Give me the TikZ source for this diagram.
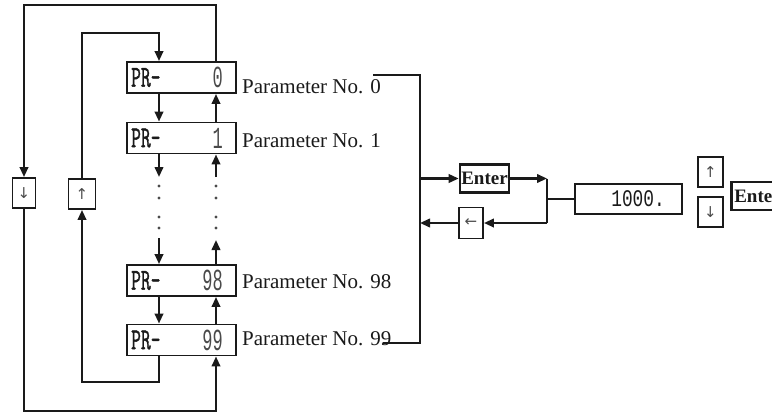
\documentclass[tikz,border=0pt]{standalone}
\usepackage{fontspec}
\usepackage{graphicx}
\setmainfont{Liberation Serif}
\newfontfamily\monofont{Liberation Mono}
\newfontfamily\prmono[FakeBold=1.6]{Latin Modern Mono}
\newfontfamily\symfont{DejaVu Sans}
\usetikzlibrary{arrows.meta}
\definecolor{ink}{HTML}{1A1A1A}
\definecolor{lcd}{HTML}{4A4A4A}
\newcommand\entfont{\bfseries\fontsize{19}{22}\selectfont}
\newcommand\prfont{\prmono\fontsize{19}{22}\selectfont}
\newcommand\dgfont{\monofont\fontsize{17}{20}\selectfont}
\begin{document}
\begin{tikzpicture}[x=1pt,y=-1pt,color=ink,line width=2.2pt,
  box/.style={draw, line width=1.9pt, inner sep=0pt},
  prbox/.style={box, minimum width=109pt, minimum height=31pt},
  keybox/.style={box, minimum width=24pt, minimum height=30pt},
  enterbox/.style={draw, line width=2.6pt, inner sep=0pt, font=\entfont},
  arr/.style={-{Triangle[length=10pt,width=8.5pt]}},
  lab/.style={anchor=base west, inner sep=0pt, font=\fontsize{21}{24}\selectfont},
  prtxt/.style={inner sep=0pt, font=\prfont},
  digit/.style={inner sep=0pt, font=\dgfont, text=lcd},
  dot/.style={circle, fill=lcd, draw=none, inner sep=0pt, minimum size=3.4pt},
  glyph/.style={font=\symfont\fontsize{15}{16}\selectfont, text=lcd, inner sep=0pt}
]
\useasboundingbox (0,0) rectangle (772,413);
\begin{scope}
\clip (0,0) rectangle (772,413);

% parameter boxes
\node[prbox] (pr0) at (181.5,77.5) {};
\node[prbox] (pr1) at (181.5,138) {};
\node[prbox] (pr98) at (181.5,280.5) {};
\node[prbox] (pr99) at (181.5,340) {};
\foreach \n/\v in {pr0/0,pr1/1,pr98/98,pr99/99}{
  \node[prtxt, anchor=west] (\n a) at ([xshift=4pt]\n.west) {\scalebox{1}[1.6]{PR-}};
  \node[digit, anchor=east] (\n b) at ([xshift=-13pt]\n.east) {\scalebox{1}[1.8]{\v}};
}

% labels
\node[lab] (lab0) at (241,93) {Parameter No. 0};
\node[lab] (lab1) at (241,147) {Parameter No. 1};
\node[lab] (lab98) at (241,288) {Parameter No. 98};
\node[lab] (lab99) at (241,345) {Parameter No. 99};

% left key boxes
\node[keybox, minimum width=23pt] (kdn) at (24,193) {};
\node[glyph] (kdng) at (kdn) {↓};
\node[keybox, minimum width=27pt] (kup) at (82,194) {};
\node[glyph] (kupg) at (kup) {↑};

% right side
\node[enterbox, minimum width=49pt, minimum height=28pt] (ent) at (484.5,178.5) {Enter};
\node[keybox, minimum width=24pt, minimum height=31pt] (back) at (471,223) {};
\node[glyph] (backg) at (back) {←};
\node[box, minimum width=107pt, minimum height=30pt] (val) at (628.5,199) {};
\node[digit, text=ink, anchor=east] (valt) at ([xshift=-17pt]val.east) {\scalebox{1.05}[1.4]{1000.}};
\node[keybox, minimum width=25pt, line width=2.4pt] (kup2) at (710.5,172) {};
\node[glyph] (kup2g) at (kup2) {↑};
\node[keybox, minimum width=25pt, line width=2.4pt] (kdn2) at (710.5,212) {};
\node[glyph] (kdn2g) at (kdn2) {↓};
\node[enterbox, anchor=west, minimum height=28pt, text width=62pt, align=left, inner xsep=3pt] (ent2) at (730,196) {Enter};

% coordinates
\coordinate (dnx) at (159,0);
\coordinate (upx) at (216,0);
\coordinate (oT) at (24,5);
\coordinate (oB) at (24,411);
\coordinate (iT) at (82,33);
\coordinate (iB) at (82,382);
\coordinate (d1) at (159,177);
\coordinate (d2) at (159,238);
\coordinate (u1) at (216,177);
\coordinate (u2) at (216,240);
\coordinate (br0) at (373,75);
\coordinate (br99) at (383,343);
\coordinate (bx) at (420,0);
\coordinate (jx) at (547,0);

% loops
\draw[arr] (pr0.north -| upx) |- (oT) -- (kdn.north);
\draw[arr] (kdn.south) -- (oB) -| (pr99.south -| upx);
\draw[arr] (pr99.south -| dnx) |- (iB) -- (kup.south);
\draw[arr] (kup.north) -- (iT) -| (pr0.north -| dnx);

% steps
\draw[arr] (pr0.south -| dnx) -- (pr1.north -| dnx);
\draw[arr] (pr1.north -| upx) -- (pr0.south -| upx);
\draw[arr] (pr1.south -| dnx) -- (d1);
\draw[arr] (u1) -- (pr1.south -| upx);
\draw[arr] (d2) -- (pr98.north -| dnx);
\draw[arr] (pr98.north -| upx) -- (u2);
\draw[arr] (pr98.south -| dnx) -- (pr99.north -| dnx);
\draw[arr] (pr99.north -| upx) -- (pr98.south -| upx);

% dots
\foreach \y [count=\i] in {186,198,217,228}{
  \node[dot] (dl\i) at (159,\y) {};
  \node[dot] (dr\i) at (216,\y) {};
}

% bracket and enter flow
\draw (br0) -| (bx |- br99) -- (br99);
\draw[arr] (bx |- ent.west) -- (ent.west);
\draw[arr] (ent.east) -- (jx |- ent.east);
\draw (jx |- ent.east) -- (jx |- back.east);
\draw (jx |- val.west) -- (val.west);
\draw[arr] (jx |- back.east) -- (back.east);
\draw[arr] (back.west) -- (bx |- back.west);
\end{scope}
\end{tikzpicture}
\end{document}
